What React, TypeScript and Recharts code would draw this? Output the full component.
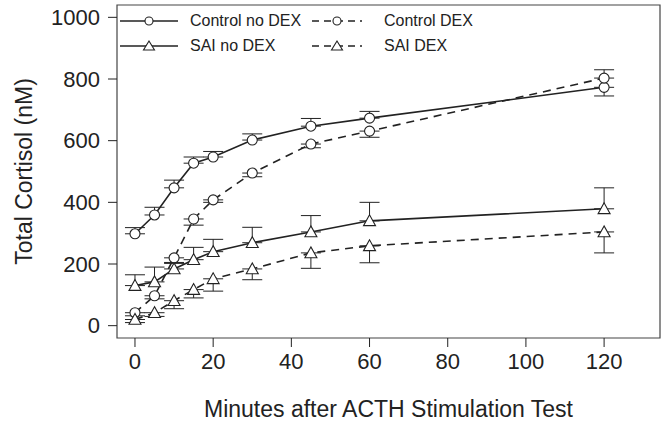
import React from "react";
import { LineChart, Line, XAxis, YAxis, ErrorBar, ReferenceArea } from "recharts";

// minutes after stimulation
const minutes = [0, 5, 10, 15, 20, 30, 45, 60, 120];

// mean total cortisol (nM)
const controlNoDex = [298, 359, 447, 527, 547, 602, 647, 673, 773];
const controlDex = [42, 97, 220, 346, 408, 495, 589, 631, 803];
const saiNoDex = [130, 142, 184, 214, 240, 269, 304, 340, 379];
const saiDex = [20, 42, 81, 117, 152, 184, 236, 259, 304];

// one-sided error bars as [below, above]
const controlNoDexErr = [[0, 20], [0, 25], [0, 25], [0, 20], [0, 18], [0, 20], [0, 25], [0, 22], [28, 0]];
const controlDexErr = [[10, 0], [10, 0], [15, 0], [20, 0], [8, 0], [12, 0], [12, 0], [20, 0], [0, 27]];
const saiNoDexErr = [[0, 35], [0, 48], [0, 18], [0, 40], [0, 40], [0, 50], [0, 53], [0, 60], [0, 68]];
const saiDexErr = [[10, 0], [12, 0], [26, 0], [27, 0], [40, 0], [35, 0], [50, 0], [55, 0], [68, 0]];

const xTicks = [0, 20, 40, 60, 80, 100, 120];
const yTicks = [0, 200, 400, 600, 800, 1000];

const data = minutes.map((t, i) => ({
  t,
  cnd: controlNoDex[i],
  cd: controlDex[i],
  snd: saiNoDex[i],
  sd: saiDex[i],
  cndErr: controlNoDexErr[i],
  cdErr: controlDexErr[i],
  sndErr: saiNoDexErr[i],
  sdErr: saiDexErr[i],
}));

const INK = "#222";
const FONT = "'Liberation Sans', Arial, sans-serif";

const CircleDot = (props: any) => {
  const { cx, cy, index } = props;
  if (cx == null || cy == null) return <g key={`c-${index}`} />;
  return <circle key={`c-${index}`} cx={cx} cy={cy} r={5} fill="#fff" stroke={INK} strokeWidth={1.1} />;
};

const TriDot = (props: any) => {
  const { cx, cy, index } = props;
  if (cx == null || cy == null) return <g key={`t-${index}`} />;
  const s = 6;
  const pts = `${cx},${cy - s} ${cx - s},${cy + s * 0.8} ${cx + s},${cy + s * 0.8}`;
  return <polygon key={`t-${index}`} points={pts} fill="#fff" stroke={INK} strokeWidth={1.1} />;
};

function LegendSample({ dashed, tri, w }: { dashed?: boolean; tri?: boolean; w: number }) {
  const c = w / 2;
  return (
    <svg width={w} height={16} style={{ display: "block" }}>
      <line x1={0} y1={8} x2={w} y2={8} stroke={INK} strokeWidth={1.6} strokeDasharray={dashed ? "7 5" : undefined} />
      {tri ? (
        <polygon points={`${c},3 ${c - 5.5},12 ${c + 5.5},12`} fill="#fff" stroke={INK} strokeWidth={1.1} />
      ) : (
        <circle cx={c} cy={8} r={4} fill="#fff" stroke={INK} strokeWidth={1.1} />
      )}
    </svg>
  );
}

const legendItems = [
  { label: "Control no DEX", dashed: false, tri: false, x: 120, y: 12, w: 58, gap: 12 },
  { label: "Control DEX", dashed: true, tri: false, x: 312, y: 12, w: 50, gap: 22 },
  { label: "SAI no DEX", dashed: false, tri: true, x: 120, y: 37, w: 58, gap: 12 },
  { label: "SAI DEX", dashed: true, tri: true, x: 312, y: 37, w: 50, gap: 22 },
];

export default function App() {
  return (
    <div style={{ position: "absolute", left: 0, top: 0, width: 665, height: 422, background: "#fff", fontFamily: FONT }}>
      <LineChart width={665} height={422} data={data} margin={{ top: 5, right: 5, left: 0, bottom: 0 }}>
        <XAxis
          dataKey="t"
          type="number"
          domain={[-4.6, 134.3]}
          ticks={xTicks}
          allowDataOverflow
          tick={{ fontSize: 22, fill: INK, fontFamily: FONT }}
          tickLine={{ stroke: INK }}
          axisLine={false}
          tickSize={9}
          tickMargin={6}
          height={84}
          label={{ value: "Minutes after ACTH Stimulation Test", position: "insideBottom", offset: 5, fontSize: 23, fill: INK, fontFamily: FONT }}
        />
        <YAxis
          type="number"
          domain={[-40, 1040]}
          ticks={yTicks}
          allowDataOverflow
          tick={{ fontSize: 22, fill: INK, fontFamily: FONT }}
          tickLine={{ stroke: INK }}
          axisLine={false}
          tickSize={9}
          tickMargin={8}
          width={117}
          label={{ value: "Total Cortisol (nM)", angle: -90, position: "insideLeft", offset: 24, fontSize: 23, fill: INK, fontFamily: FONT, style: { textAnchor: "middle" } }}
        />
        <ReferenceArea x1={-4.6} x2={134.3} y1={-40} y2={1040} fill="none" stroke="#444" strokeWidth={1.2} ifOverflow="visible" />
        <Line dataKey="cnd" stroke={INK} strokeWidth={1.6} dot={CircleDot} isAnimationActive={false}>
          <ErrorBar dataKey="cndErr" width={10} stroke={INK} strokeWidth={1} />
        </Line>
        <Line dataKey="cd" stroke={INK} strokeWidth={1.6} strokeDasharray="8 6" dot={CircleDot} isAnimationActive={false}>
          <ErrorBar dataKey="cdErr" width={10} stroke={INK} strokeWidth={1} />
        </Line>
        <Line dataKey="snd" stroke={INK} strokeWidth={1.6} dot={TriDot} isAnimationActive={false}>
          <ErrorBar dataKey="sndErr" width={10} stroke={INK} strokeWidth={1} />
        </Line>
        <Line dataKey="sd" stroke={INK} strokeWidth={1.6} strokeDasharray="8 6" dot={TriDot} isAnimationActive={false}>
          <ErrorBar dataKey="sdErr" width={10} stroke={INK} strokeWidth={1} />
        </Line>
      </LineChart>
      {legendItems.map((it) => (
        <div
          key={it.label}
          style={{ position: "absolute", left: it.x, top: it.y, display: "flex", alignItems: "center", gap: it.gap, fontSize: 16, color: INK, whiteSpace: "nowrap" }}
        >
          <LegendSample dashed={it.dashed} tri={it.tri} w={it.w} />
          <span>{it.label}</span>
        </div>
      ))}
    </div>
  );
}
